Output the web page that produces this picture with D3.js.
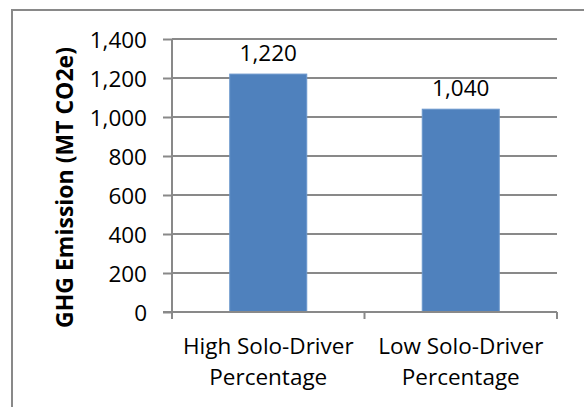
<!DOCTYPE html>
<html>
<head>
<meta charset="utf-8">
<script src="https://cdn.jsdelivr.net/npm/d3@7"></script>
<style>
  html, body { margin: 0; padding: 0; background: #fff; }
  svg { display: block; }
  text { font-family: "Open Sans", "Noto Sans", sans-serif; fill: #000; }
</style>
</head>
<body>
<svg id="chart" width="584" height="407"></svg>
<script>
// GHG emission by solo-driver share
const categories = [["High Solo-Driver", "Percentage"], ["Low Solo-Driver", "Percentage"]];
const values = [1220, 1040];
const yTicks = [0, 200, 400, 600, 800, 1000, 1200, 1400];
const yTitle = "GHG Emission (MT CO2e)";

const svg = d3.select("#chart");
const W = 584, H = 407;
const plot = { left: 172, right: 557, top: 39, bottom: 312 };
const grey = "#898989";
const fontSize = 22.5;

// chart frame (extends past the right and bottom edges)
svg.append("rect")
  .attr("x", 12).attr("y", 10)
  .attr("width", W + 20).attr("height", H + 20)
  .attr("fill", "#fff").attr("stroke", grey).attr("stroke-width", 2);

const x = d3.scaleBand()
  .domain(d3.range(categories.length))
  .range([plot.left, plot.right])
  .paddingInner(0.6).paddingOuter(0.3);

const y = d3.scaleLinear().domain([0, 1400]).range([plot.bottom, plot.top]);

// horizontal gridlines
svg.append("g")
  .selectAll("line")
  .data(yTicks.filter(d => d > 0))
  .join("line")
  .attr("x1", plot.left).attr("x2", plot.right)
  .attr("y1", d => y(d)).attr("y2", d => y(d))
  .attr("stroke", grey).attr("stroke-width", 2);

// bars
svg.append("g")
  .selectAll("rect")
  .data(values)
  .join("rect")
  .attr("x", (d, i) => x(i))
  .attr("y", d => y(d))
  .attr("width", x.bandwidth())
  .attr("height", d => y(0) - y(d))
  .attr("fill", "#4F81BD")
  .attr("stroke", "#6a96cc").attr("stroke-width", 1);

// value labels
const fmt = d3.format(",");
svg.append("g")
  .selectAll("text")
  .data(values)
  .join("text")
  .attr("x", (d, i) => x(i) + x.bandwidth() / 2)
  .attr("y", d => y(d) - 13)
  .attr("text-anchor", "middle")
  .attr("font-size", fontSize)
  .text(d => fmt(d));

// y axis
const yAxis = d3.axisLeft(y).tickValues(yTicks).tickSize(9).tickPadding(16).tickFormat(fmt);
const gy = svg.append("g").attr("transform", `translate(${plot.left},0)`).call(yAxis);
gy.select(".domain").attr("stroke", grey).attr("stroke-width", 2)
  .attr("d", `M0,${plot.top}V${plot.bottom + 7}`);
gy.selectAll(".tick line").attr("stroke", grey).attr("stroke-width", 2);
gy.selectAll(".tick text")
  .attr("font-size", fontSize).attr("font-family", "'Open Sans', sans-serif")
  .attr("fill", "#000").attr("dy", "0.36em");

// x axis baseline with category boundary ticks
const xBoundaries = d3.range(categories.length + 1).map(i => plot.left + i * (plot.right - plot.left) / categories.length);
svg.append("line")
  .attr("x1", plot.left - 9).attr("x2", plot.right)
  .attr("y1", plot.bottom).attr("y2", plot.bottom)
  .attr("stroke", grey).attr("stroke-width", 2);
svg.append("g")
  .selectAll("line")
  .data(xBoundaries)
  .join("line")
  .attr("x1", d => d).attr("x2", d => d)
  .attr("y1", plot.bottom).attr("y2", plot.bottom + 7)
  .attr("stroke", grey).attr("stroke-width", 2);

// category labels (two lines each)
const catG = svg.append("g")
  .selectAll("text")
  .data(categories)
  .join("text")
  .attr("text-anchor", "middle")
  .attr("font-size", fontSize)
  .attr("transform", (d, i) => `translate(${x(i) + x.bandwidth() / 2},0)`);
catG.selectAll("tspan")
  .data(d => d)
  .join("tspan")
  .attr("x", 0)
  .attr("y", (d, j) => 354 + j * 31)
  .text(d => d);

// y axis title
svg.append("text")
  .attr("transform", `translate(73,${(50 + 325) / 2}) rotate(-90)`)
  .attr("text-anchor", "middle")
  .attr("font-size", 23)
  .attr("font-weight", "bold")
  .text(yTitle);
</script>
</body>
</html>
